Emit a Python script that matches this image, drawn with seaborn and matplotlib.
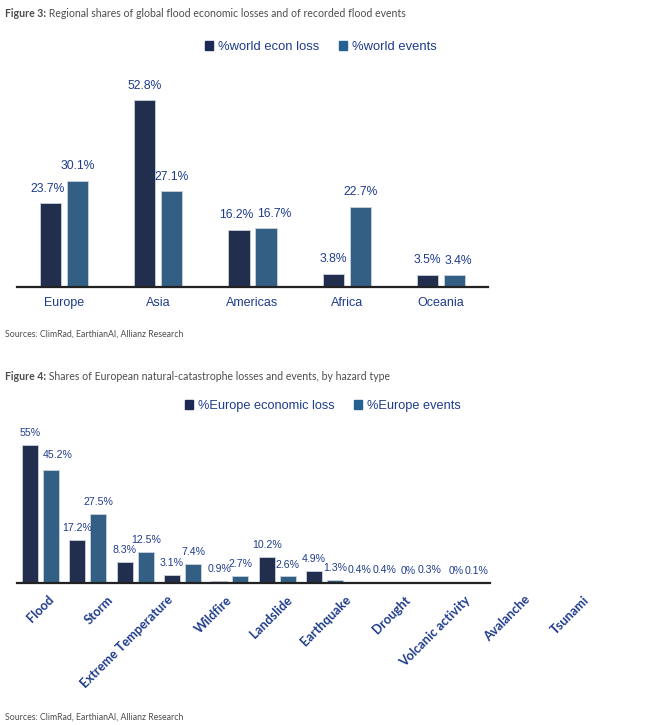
import matplotlib
matplotlib.use('Agg')
import matplotlib.pyplot as plt
from matplotlib.patches import Patch
import seaborn as sns
import pandas as pd

# ---- data ----
regions = ['Europe', 'Asia', 'Americas', 'Africa', 'Oceania']
world_econ_loss = [23.7, 52.8, 16.2, 3.8, 3.5]
world_events = [30.1, 27.1, 16.7, 22.7, 3.4]

hazards = ['Flood', 'Storm', 'Extreme Temperature', 'Wildfire', 'Landslide',
           'Earthquake', 'Drought', 'Volcanic activity', 'Avalanche', 'Tsunami']
europe_econ_loss = [55, 17.2, 8.3, 3.1, 0.9, 10.2, 4.9, 0.4, 0, 0]
europe_events = [45.2, 27.5, 12.5, 7.4, 2.7, 2.6, 1.3, 0.4, 0.3, 0.1]

series_top = ['%world econ loss', '%world events']
series_bottom = ['%Europe economic loss', '%Europe events']

# ---- style ----
DARK = '#1b2a55'
BLUE = '#246191'
TXT = '#1f3c8c'
GREY = '#4d4d4d'
SANS = ['Liberation Sans', 'DejaVu Sans']
ALLIANZ = ['Lato', 'DejaVu Sans']

sns.set_style('white')
plt.rcParams['font.family'] = SANS

W, H = 658, 725
fig = plt.figure(figsize=(W / 100, H / 100), dpi=100)


def px_axes(left, right, base, top):
    return fig.add_axes([left / W, 1 - base / H, (right - left) / W, (base - top) / H])


def clean(ax):
    for s in ['left', 'top', 'right']:
        ax.spines[s].set_visible(False)
    ax.spines['bottom'].set_color('#222222')
    ax.spines['bottom'].set_linewidth(1.6)
    ax.set_yticks([])
    ax.set_xlabel('')
    ax.set_ylabel('')


def pct(v):
    return f'{v:g}%'


def add_labels(ax, series, size, pad, nudges):
    # value labels above bars; a few are pushed sideways so they don't collide
    for k, (c, vals) in enumerate(zip(ax.containers, series)):
        anns = ax.bar_label(c, labels=[pct(v) for v in vals], padding=pad,
                            fontsize=size, color=TXT)
        for i, a in enumerate(anns):
            dx, dy = nudges.get((k, i), (0, 0))
            x0, y0 = a.xyann
            a.xyann = (x0 + dx * 0.72, y0 + dy * 0.72)


# ---- Figure 3 ----
df_top = pd.DataFrame({'region': regions * 2,
                       'value': world_econ_loss + world_events,
                       'series': [series_top[0]] * 5 + [series_top[1]] * 5})
ax1 = px_axes(17, 488, 287, 287 - 60 * 3.535)
sns.barplot(data=df_top, x='region', y='value', hue='series', ax=ax1,
            palette=[DARK, BLUE], width=0.573, gap=0.22, legend=False,
            edgecolor='#c9d3e0', linewidth=0.6)
ax1.set_ylim(0, 60)
ax1.set_xlim(-0.5, 4.5)
clean(ax1)
ax1.tick_params(axis='x', length=0, pad=7, labelsize=9, labelcolor=TXT)
add_labels(ax1, [world_econ_loss, world_events], 8.7, 6,
           {(0, 0): (-3.5, 0), (0, 2): (-3, 0), (1, 2): (8, 0), (1, 4): (4, 0)})

fig.legend(handles=[Patch(color=DARK), Patch(color=BLUE)], labels=series_top,
           loc='center', bbox_to_anchor=(321 / W, 1 - 47 / H), ncol=2,
           frameon=False, fontsize=9.4, labelcolor=TXT, handlelength=0.6,
           handleheight=0.6, handletextpad=0.4, columnspacing=1.5)

# ---- Figure 4 ----
df_bot = pd.DataFrame({'hazard': hazards * 2,
                       'value': europe_econ_loss + europe_events,
                       'series': [series_bottom[0]] * 10 + [series_bottom[1]] * 10})
ax2 = px_axes(17, 490, 583, 583 - 60 * 2.51)
sns.barplot(data=df_bot, x='hazard', y='value', hue='series', ax=ax2,
            palette=[DARK, BLUE], width=0.888, gap=0.24, legend=False,
            edgecolor='#c9d3e0', linewidth=0.6)
ax2.set_ylim(0, 60)
ax2.set_xlim(-0.5, 9.5)
clean(ax2)
ax2.set_xticks([])
add_labels(ax2, [europe_econ_loss, europe_events], 7.6, 5,
           {(1, 0): (6.5, 3), (0, 7): (-2, 0), (1, 7): (2, 0)})

# rotated category labels, spread wider than the bars as in the source layout
for i, name in enumerate(hazards):
    ax2.text(0.14 + 1.259 * i, -0.07, name, transform=ax2.get_xaxis_transform(),
             rotation=45, rotation_mode='anchor', ha='right', va='top',
             fontsize=9.2, fontweight='bold', color=TXT, family=ALLIANZ,
             clip_on=False)

fig.legend(handles=[Patch(color=DARK), Patch(color=BLUE)], labels=series_bottom,
           loc='center', bbox_to_anchor=(323 / W, 1 - 406 / H), ncol=2,
           frameon=False, fontsize=9.2, labelcolor=TXT, handlelength=0.6,
           handleheight=0.6, handletextpad=0.4, columnspacing=1.5)


# ---- titles and sources ----
def caption(y, bold, rest):
    t = fig.text(5 / W, 1 - y / H, bold, fontsize=7.6, fontweight='bold',
                 color=GREY, family=ALLIANZ, va='bottom')
    fig.add_artist(plt.Annotation(' ' + rest, xy=(1, 0), xycoords=t,
                                  fontsize=7.6, color=GREY, family=ALLIANZ,
                                  va='bottom', ha='left'))


caption(19, 'Figure 3:', 'Regional shares of global flood economic losses and of recorded flood events')
caption(382, 'Figure 4:', 'Shares of European natural-catastrophe losses and events, by hazard type')

for y in (334, 717):
    fig.text(5 / W, 1 - y / H, 'Sources: ClimRad, EarthianAI, Allianz Research',
             fontsize=6.3, color=GREY, family=ALLIANZ, va='center')

fig.savefig('out.png', dpi=100)
